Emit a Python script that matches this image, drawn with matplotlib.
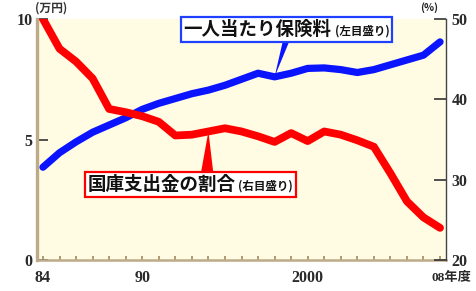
import matplotlib
matplotlib.use("Agg")
import matplotlib.pyplot as plt
from matplotlib.offsetbox import TextArea, HPacker, AnnotationBbox

years = list(range(1984, 2009))
premium = [3.85, 4.45, 4.9, 5.3, 5.6, 5.9, 6.25, 6.5, 6.7, 6.9, 7.05, 7.25, 7.5,
           7.75, 7.6, 7.75, 7.95, 7.97, 7.9, 7.78, 7.9, 8.1, 8.3, 8.5, 9.05]
subsidy = [50.0, 46.3, 44.7, 42.6, 38.8, 38.4, 37.9, 37.2, 35.5, 35.6, 36.0, 36.4, 36.0,
           35.4, 34.7, 35.8, 34.8, 36.0, 35.6, 34.9, 34.1, 30.8, 27.3, 25.3, 24.0]
xlabels = {1984: "84", 1990: "90", 2000: "2000"}
left_ticks = [0, 5, 10]
right_ticks = [20, 30, 40, 50]

plt.rcParams['font.family'] = ['Noto Sans CJK JP', 'DejaVu Sans']

fig = plt.figure(figsize=(4.77, 2.91), dpi=100)
ax = fig.add_axes([37/477, 31/291, 409/477, 241/291])
ax2 = ax.twinx()

bg = "#FFFCE3"
tan = "#BDAA88"
ax.set_facecolor(bg)
ax2.patch.set_visible(False)

ax.plot(years, premium, color="#0A14FF", lw=5.2, solid_capstyle="round",
        solid_joinstyle="round", zorder=3)
ax2.plot(years, subsidy, color="#FF0000", lw=5.6, solid_capstyle="round",
         solid_joinstyle="round", zorder=3)

ax.set_xlim(1983.64, 2008.36)
ax.set_ylim(0, 10)
ax2.set_ylim(20, 50)

for a in (ax, ax2):
    a.spines['top'].set_visible(False)
ax.spines['right'].set_visible(False)
ax2.spines['left'].set_visible(False)
ax2.spines['bottom'].set_visible(False)
ax.spines['left'].set_color(tan)
ax.spines['left'].set_linewidth(2.4)
ax.spines['bottom'].set_color(tan)
ax.spines['bottom'].set_linewidth(1.8)
ax2.spines['right'].set_color("#444444")
ax2.spines['right'].set_linewidth(1.0)

serif = "Liberation Serif"
tick_font = dict(fontfamily=serif, fontsize=11.5, fontweight='bold', color="#2a2a2a")
ax.set_xticks(years)
ax.set_xticklabels([xlabels.get(y, "") for y in years], **tick_font)
ax.tick_params(axis='x', direction='in', length=3, width=1.2, color="#A08A60", pad=7)
ax.set_yticks(left_ticks)
ax.set_yticklabels([str(v) for v in left_ticks], **tick_font)
ax.tick_params(axis='y', direction='in', length=8, width=1.2, color="#333333", pad=3)
ax2.set_yticks(right_ticks)
ax2.set_yticklabels([str(v) for v in right_ticks], **tick_font)
ax2.tick_params(axis='y', direction='in', length=9, width=1.2, color="#333333", pad=4)

# last x label "08年度"
ax.annotate("08年度", xy=(years[-1], 0), xycoords=('data', 'axes fraction'),
            xytext=(-9, -12), textcoords='offset pixels', ha='left', va='top',
            fontsize=9.5, fontweight='bold', color="#2a2a2a",
            family=[serif, 'Noto Sans CJK JP'], annotation_clip=False)

# unit labels
fig.text(35/477, 1 - 8/291, "(万円)", fontsize=8.5, fontweight='bold', ha='left',
         va='center', color="#333333")
fig.text(429/477, 1 - 8/291, "(%)", fontsize=7.5, fontweight='bold', ha='center',
         va='center', color="#222222")

# pointers
ax.annotate("", xy=(1998, premium[years.index(1998)]), xycoords='data',
            xytext=(0.612, 0.925), textcoords='axes fraction',
            arrowprops=dict(arrowstyle="wedge,tail_width=0.5", fc="#0A14FF",
                            ec="none", shrinkA=0, shrinkB=0), zorder=4)
ax2.annotate("", xy=(1994, subsidy[years.index(1994)]), xycoords='data',
             xytext=(0.416, 0.36), textcoords='axes fraction',
             arrowprops=dict(arrowstyle="wedge,tail_width=0.9", fc="#FF0000",
                             ec="none", shrinkA=0, shrinkB=0), zorder=4)

def label_box(axis, main, sub, pos, edge):
    t1 = TextArea(main, textprops=dict(fontsize=13.3, fontweight='bold', color="#111111"))
    t2 = TextArea(sub, textprops=dict(fontsize=8.3, fontweight='bold', color="#111111"))
    pack = HPacker(children=[t1, t2], align="baseline", pad=0, sep=2)
    ab = AnnotationBbox(pack, pos, xycoords='axes fraction', frameon=True,
                        box_alignment=(0.5, 0.5), pad=0.22,
                        bboxprops=dict(edgecolor=edge, facecolor="white", lw=1.6),
                        annotation_clip=False, zorder=6)
    axis.add_artist(ab)

label_box(ax2, "一人当たり保険料", "(左目盛り)", (0.610, 0.958), "#2040FF")
label_box(ax2, "国庫支出金の割合", "(右目盛り)", (0.375, 0.315), "#FF0000")

fig.savefig("out.png", dpi=100, facecolor="white")
